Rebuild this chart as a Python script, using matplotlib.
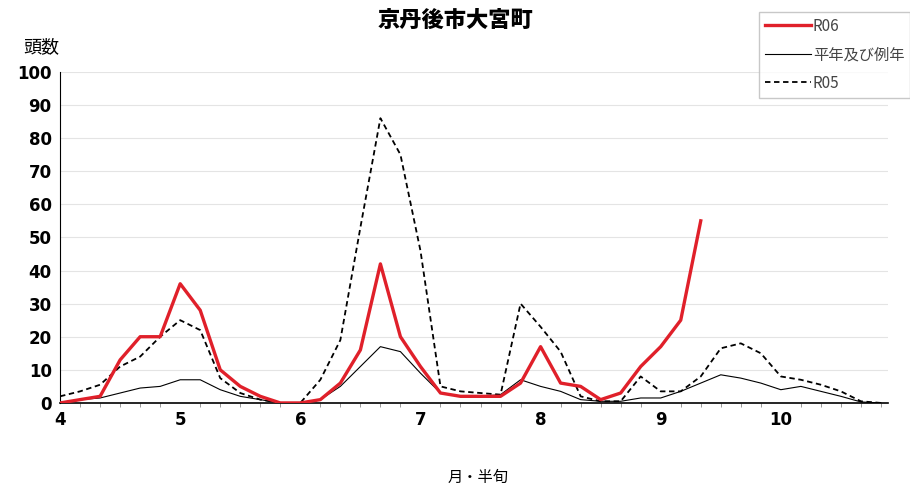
"""Half-month counts for 京丹後市大宮町: R06 vs normal year vs R05."""

import matplotlib

matplotlib.use("Agg")
import matplotlib.pyplot as plt
import numpy as np

plt.rcParams["font.family"] = ["Noto Sans CJK JP", "DejaVu Sans"]

# one value per 半旬 (6 per month), April .. October
months = [4, 5, 6, 7, 8, 9, 10]
r06 = [0, 1, 2, 13, 20, 20, 36, 28, 10, 5, 2, 0,
       0, 1, 6, 16, 42, 20, 11, 3, 2, 2, 2, 6,
       17, 6, 5, 1, 3, 11, 17, 25, 55]
heinen = [0, 1, 1.5, 3, 4.5, 5, 7, 7, 4, 2, 1, 0,
          0, 1, 5, 11, 17, 15.5, 9, 3, 2, 2, 2.5, 7,
          5, 3.5, 1, 0.5, 0.5, 1.5, 1.5, 3.5, 6, 8.5, 7.5, 6,
          4, 5, 3.5, 2, 0.3, 0]
r05 = [2, 3.5, 5.5, 11, 14, 20, 25, 22, 7.5, 3, 1, 0,
       0, 7, 19, 53, 86, 75, 46, 5, 3.5, 3, 2.5, 30,
       23, 15.5, 2, 0.5, 0.5, 8, 3.5, 3.5, 8, 16.5, 18, 15,
       8, 7, 5.5, 3.5, 0.5, 0]

n = len(months) * 6
x = months[0] + np.arange(n) / 6

fig = plt.figure(figsize=(9.1, 4.92), dpi=100)
ax = fig.add_axes([0.066, 0.181, 0.91, 0.673])

ax.plot(x[:len(r06)], r06, color="#e0202a", lw=2.4, label="R06", zorder=3)
ax.plot(x, heinen, color="black", lw=0.8, label="平年及び例年", zorder=2)
ax.plot(x, r05, color="black", lw=1.3, ls=(0, (3, 2)), label="R05", zorder=2)

ax.set_xlim(x[0], x[-1] + 0.06)
ax.set_ylim(0, 100)
ax.set_yticks(range(0, 101, 10))
ax.set_xticks(months)
ax.set_xticks(x, minor=True)
ax.tick_params(axis="x", which="major", length=0, pad=6)
ax.tick_params(axis="x", which="minor", length=3, color="#888888")
ax.tick_params(axis="y", length=0, pad=6)
for lab in ax.get_xticklabels() + ax.get_yticklabels():
    lab.set_family(["DejaVu Sans"])
    lab.set_fontweight("bold")
    lab.set_fontsize(12)
ax.grid(axis="y", color="#e4e4e4", lw=0.8)
ax.set_axisbelow(True)
for side in ("top", "right"):
    ax.spines[side].set_visible(False)
ax.spines["left"].set_linewidth(0.8)
ax.spines["bottom"].set_linewidth(1.2)

fig.text(0.5, 0.958, "京丹後市大宮町", ha="center", va="center",
         fontsize=16, fontweight="black")
fig.text(0.045, 0.905, "頭数", ha="center", va="center", fontsize=13)
fig.text(0.525, 0.03, "月・半旬", ha="center", va="center", fontsize=11)

leg = fig.legend(loc="upper left", bbox_to_anchor=(0.826, 0.992), fontsize=11,
                 frameon=True, fancybox=False, edgecolor="#bbbbbb",
                 handlelength=3.0, handletextpad=0.1, borderpad=0.4,
                 labelspacing=0.75)
for t in leg.get_texts():
    t.set_color("#444444")

fig.savefig("out.png", dpi=100)
